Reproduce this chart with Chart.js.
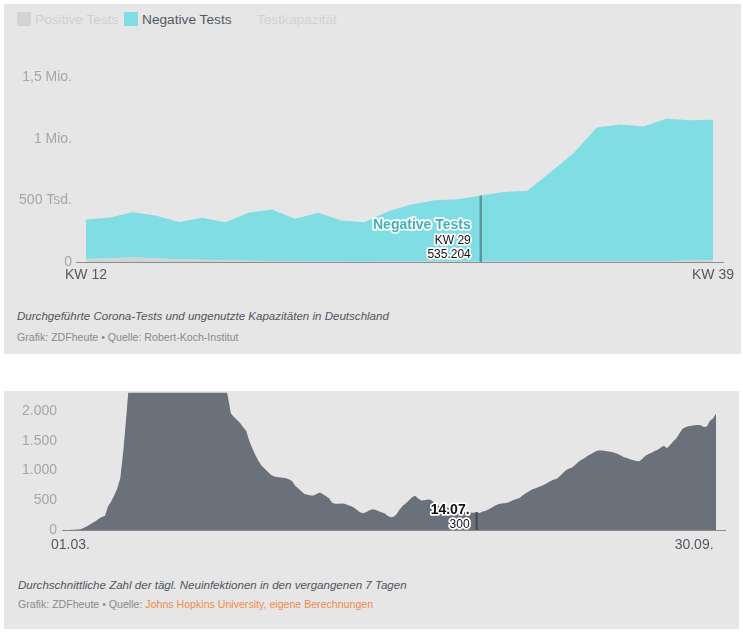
<!DOCTYPE html>
<html><head><meta charset="utf-8">
<script src="https://cdn.jsdelivr.net/npm/chart.js@4.4.1/dist/chart.umd.min.js"></script>
<style>
html,body{margin:0;padding:0;background:#fff;width:743px;height:635px;overflow:hidden;font-family:"Liberation Sans",Arial,sans-serif;}
.abs{position:absolute;}
.panel{position:absolute;background:#e6e6e6;}
#p1{left:4px;top:4px;width:737px;height:350px;}
#p2{left:4px;top:391px;width:735px;height:238px;}
.leg{position:absolute;top:12px;font-size:13.7px;line-height:16px;height:16px;white-space:nowrap;}
.sq{position:absolute;top:12px;width:14px;height:14px;}
.cap{position:absolute;font-size:11.55px;font-style:italic;color:#50555c;white-space:nowrap;line-height:14px;}
.src{position:absolute;font-size:10.6px;color:#8a8a8a;white-space:nowrap;line-height:14px;}
.src span{color:#f28a4c;}
</style>
</head><body>
<div class="panel" id="p1"></div>
<div class="panel" id="p2"></div>

<div class="sq" style="left:17px;background:#d2d3d5"></div>
<div class="leg" style="left:35px;color:#cfcfcf">Positive Tests</div>
<div class="sq" style="left:124px;background:#80dde4"></div>
<div class="leg" style="left:142px;color:#55595f">Negative Tests</div>
<div class="leg" style="left:257px;color:#d2d2d2">Testkapazität</div>

<div class="abs" style="left:0;top:50px;width:743px;height:240px;"><canvas id="c1" width="743" height="240"></canvas></div>
<div class="cap" style="left:17px;top:309px;">Durchgeführte Corona-Tests und ungenutzte Kapazitäten in Deutschland</div>
<div class="src" style="left:17px;top:330px;">Grafik: ZDFheute • Quelle: Robert-Koch-Institut</div>

<div class="abs" style="left:0;top:379px;width:743px;height:181px;"><canvas id="c2" width="743" height="181"></canvas></div>
<div class="cap" style="left:18px;top:578px;">Durchschnittliche Zahl der tägl. Neuinfektionen in den vergangenen 7 Tagen</div>
<div class="src" style="left:18px;top:597px;">Grafik: ZDFheute • Quelle: <span>Johns Hopkins University, eigene Berechnungen</span></div>

<script>
// ---------- Chart 1: Tests per calendar week ----------
const weeks = ['KW 12','KW 13','KW 14','KW 15','KW 16','KW 17','KW 18','KW 19','KW 20','KW 21','KW 22','KW 23','KW 24','KW 25',
  'KW 26','KW 27','KW 28','KW 29','KW 30','KW 31','KW 32','KW 33','KW 34','KW 35','KW 36','KW 37','KW 38','KW 39'];
const positiveTests = [23820,31414,36885,30791,22082,18083,12608,10755,7233,5218,4310,3208,2816,5309,
  3674,3080,2990,3483,5026,5740,7330,8407,8661,7933,8177,9063,11393,14204];
const negativeTests = [320000,327000,367000,346000,303000,340000,309000,388000,419000,345000,395000,333000,319000,405000,
  463000,497000,505000,535204,563000,571000,720000,875000,1081000,1107000,1090000,1152000,1137000,1139000];
const yTicks1 = [0,500000,1000000,1500000];
const yTickLabels1 = ['0','500 Tsd.','1 Mio.','1,5 Mio.'];
const xTickIdx1 = [0,27];
const highlight1 = 17;

// ---------- Chart 2: daily new infections, 7-day mean ----------
const startDate = [2020,2,1];
const dailyCases = [
  0,0,2,3,5,8,12,35,60,90,
  120,150,190,220,240,400,480,580,700,880,
  1350,1950,2600,3100,3500,3900,4300,4700,5000,5300,
  5600,5800,5900,5950,5900,5700,5500,5200,5000,4800,
  4600,4400,4100,3900,3700,3500,3300,3200,3050,2950,
  2800,2700,2600,2500,2250,1960,1900,1850,1800,1730,
  1665,1500,1370,1260,1160,1080,1030,980,930,905,
  890,885,880,870,850,820,740,700,650,605,
  595,580,580,610,630,600,570,530,460,440,
  440,447,440,420,405,380,340,300,280,300,
  330,350,340,320,300,280,240,213,225,270,
  350,410,450,500,550,575,530,495,500,515,
  510,470,420,405,395,385,370,350,340,325,
  315,305,297,295,290,300,285,310,325,350,
  380,410,435,445,450,460,480,505,520,540,
  580,620,650,680,700,720,740,760,790,820,
  845,860,900,950,1000,1030,1047,1090,1140,1180,
  1205,1240,1270,1300,1330,1340,1338,1330,1320,1313,
  1300,1280,1255,1225,1210,1190,1175,1160,1158,1200,
  1250,1280,1300,1330,1350,1390,1420,1375,1430,1490,
  1540,1620,1700,1730,1745,1755,1762,1768,1765,1735,
  1740,1840,1875,1960];
const yTicks2 = [0,500,1000,1500,2000];
const yTickLabels2 = ['0','500','1.000','1.500','2.000'];
const highlight2 = 135;

const days = dailyCases.map((_, i) => {
  const d = new Date(startDate[0], startDate[1], startDate[2] + i);
  return String(d.getDate()).padStart(2,'0') + '.' + String(d.getMonth()+1).padStart(2,'0') + '.';
});
const fmtDE = n => String(n).replace(/\B(?=(\d{3})+(?!\d))/g, '.');

const FONT = '"Liberation Sans", Arial, sans-serif';
Chart.defaults.font.family = FONT;
Chart.defaults.animation = false;

function haloText(ctx, txt, x, y, font, color) {
  ctx.font = font;
  ctx.textAlign = 'right';
  ctx.textBaseline = 'middle';
  ctx.lineJoin = 'round';
  ctx.lineWidth = 3.5;
  ctx.strokeStyle = '#ffffff';
  ctx.strokeText(txt, x, y);
  ctx.fillStyle = color;
  ctx.fillText(txt, x, y);
}

const annot1 = {
  id: 'annot1',
  afterDatasetsDraw(chart) {
    const {ctx, chartArea, scales} = chart;
    const x = scales.x.getPixelForValue(highlight1);
    const yTop = scales.y.getPixelForValue(positiveTests[highlight1] + negativeTests[highlight1]);
    const b = chartArea.bottom;
    ctx.save();
    ctx.strokeStyle = '#5c979d';
    ctx.lineWidth = 2.5;
    ctx.beginPath(); ctx.moveTo(x, b); ctx.lineTo(x, yTop); ctx.stroke();
    const tx = x - 10;
    haloText(ctx, 'Negative Tests', tx, b - 37, 'bold 14px ' + FONT, '#3cb2bd');
    haloText(ctx, weeks[highlight1], tx, b - 21, '12px ' + FONT, '#111');
    haloText(ctx, fmtDE(negativeTests[highlight1]), tx, b - 7, '12px ' + FONT, '#111');
    ctx.restore();
  }
};

new Chart(document.getElementById('c1'), {
  type: 'line',
  data: {
    datasets: [
      { label: 'Positive Tests', data: positiveTests.map((v,i)=>({x:i,y:v})),
        backgroundColor: '#d2d3d5', borderColor: 'rgba(0,0,0,0)', borderWidth: 0, pointRadius: 0, fill: 'origin', tension: 0 },
      { label: 'Negative Tests', data: negativeTests.map((v,i)=>({x:i,y:v})),
        backgroundColor: '#80dde4', borderColor: 'rgba(0,0,0,0)', borderWidth: 0, pointRadius: 0, fill: '-1', tension: 0 }
    ]
  },
  options: {
    responsive: false,
    layout: { padding: { left: 0, right: 20, top: 27, bottom: 0 } },
    plugins: { legend: { display: false }, tooltip: { enabled: false } },
    scales: {
      x: {
        type: 'linear', min: -0.43, max: 27.43,
        grid: { display: false, drawTicks: false },
        border: { display: true, color: '#8c8c8c', width: 1 },
        afterBuildTicks: s => { s.ticks = xTickIdx1.map(v => ({ value: v })); },
        afterFit: s => { s.height = 28; },
        ticks: { autoSkip: false, maxRotation: 0, padding: 5, color: '#55595f', font: { size: 14 },
          callback: v => weeks[v] }
      },
      y: {
        stacked: true, min: 0, max: 1500000,
        grid: { display: false, drawTicks: false },
        border: { display: false },
        afterBuildTicks: s => { s.ticks = yTicks1.map(v => ({ value: v })); },
        afterFit: s => { s.width = 76; },
        ticks: { padding: 4, color: '#aaa59f', font: { size: 14 },
          callback: v => yTickLabels1[yTicks1.indexOf(v)] }
      }
    }
  },
  plugins: [annot1]
});

const annot2 = {
  id: 'annot2',
  afterDatasetsDraw(chart) {
    const {ctx, chartArea, scales} = chart;
    const x = scales.x.getPixelForValue(highlight2);
    const yTop = scales.y.getPixelForValue(dailyCases[highlight2]);
    const b = chartArea.bottom;
    ctx.save();
    ctx.strokeStyle = '#4b5058';
    ctx.lineWidth = 2.5;
    ctx.beginPath(); ctx.moveTo(x, b); ctx.lineTo(x, yTop); ctx.stroke();
    const tx = x - 7;
    haloText(ctx, days[highlight2], tx, b - 20, 'bold 14px ' + FONT, '#111');
    haloText(ctx, fmtDE(dailyCases[highlight2]), tx, b - 5, '12px ' + FONT, '#111');
    // x-axis end labels
    ctx.font = '14px ' + FONT;
    ctx.fillStyle = '#55595f';
    ctx.textAlign = 'center';
    ctx.textBaseline = 'middle';
    ctx.fillText(days[0], scales.x.getPixelForValue(0) + 8.5, b + 15);
    ctx.fillText(days[days.length-1], scales.x.getPixelForValue(days.length-1) - 22, b + 15);
    ctx.restore();
  }
};

new Chart(document.getElementById('c2'), {
  type: 'line',
  data: {
    datasets: [
      { label: 'Neuinfektionen', data: dailyCases.map((v,i)=>({x:i,y:v})),
        backgroundColor: '#6b717b', borderColor: 'rgba(0,0,0,0)', borderWidth: 0, pointRadius: 0, fill: 'origin', tension: 0 }
    ]
  },
  options: {
    responsive: false,
    layout: { padding: { left: 0, right: 18, top: 12, bottom: 0 } },
    plugins: { legend: { display: false }, tooltip: { enabled: false } },
    scales: {
      x: {
        type: 'linear', min: 0, max: 215.9,
        grid: { display: false, drawTicks: false },
        border: { display: true, color: '#8c8c8c', width: 1 },
        afterFit: s => { s.height = 30; },
        ticks: { display: false }
      },
      y: {
        min: 0, max: 2316,
        grid: { display: false, drawTicks: false },
        border: { display: false },
        afterBuildTicks: s => { s.ticks = yTicks2.map(v => ({ value: v })); },
        afterFit: s => { s.width = 62; },
        ticks: { padding: 5, color: '#aaa59f', font: { size: 14 },
          callback: v => yTickLabels2[yTicks2.indexOf(v)] }
      }
    }
  },
  plugins: [annot2]
});
</script>
</body></html>
